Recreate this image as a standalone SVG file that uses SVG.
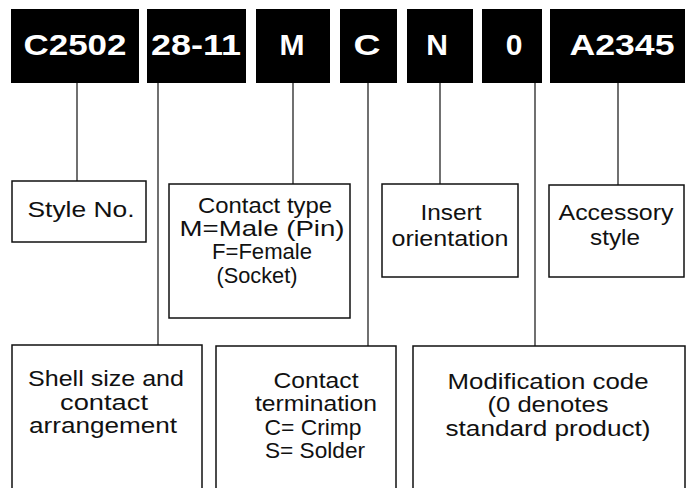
<svg xmlns="http://www.w3.org/2000/svg" width="691" height="488" viewBox="0 0 691 488">
<style>
.code{fill:#000}
.ct{fill:#fff;font-family:"Liberation Sans",Arial,sans-serif;font-weight:bold;font-size:30px;text-anchor:middle}
.box{fill:#fff;stroke:#111;stroke-width:1.5}
.lb{fill:#111;font-family:"Liberation Sans",Arial,sans-serif;font-size:22px;text-anchor:middle}
.cn{stroke:#111;stroke-width:1.2;fill:none}
</style>
<rect width="691" height="488" fill="#fff"/>
<g id="connectors">
<line class="cn" x1="77" y1="83" x2="77" y2="182"/>
<line class="cn" x1="158" y1="83" x2="158" y2="345"/>
<line class="cn" x1="293" y1="83" x2="293" y2="184"/>
<line class="cn" x1="368" y1="83" x2="368" y2="346"/>
<line class="cn" x1="440" y1="83" x2="440" y2="184"/>
<line class="cn" x1="535" y1="83" x2="535" y2="346"/>
<line class="cn" x1="618" y1="83" x2="618" y2="185"/>
</g>
<g id="code-C2502"><rect class="code" x="11" y="9" width="128" height="74"/><text class="ct" x="75" y="55" textLength="103" lengthAdjust="spacingAndGlyphs">C2502</text></g>
<g id="code-28-11"><rect class="code" x="147" y="9" width="99" height="74"/><text class="ct" x="196" y="55" textLength="90" lengthAdjust="spacingAndGlyphs">28-11</text></g>
<g id="code-M"><rect class="code" x="256" y="9" width="74" height="74"/><text class="ct" x="292" y="55">M</text></g>
<g id="code-C"><rect class="code" x="340" y="9" width="57" height="74"/><text class="ct" x="367" y="55" textLength="27" lengthAdjust="spacingAndGlyphs">C</text></g>
<g id="code-N"><rect class="code" x="407" y="9" width="66" height="74"/><text class="ct" x="437" y="55">N</text></g>
<g id="code-0"><rect class="code" x="482" y="9" width="60" height="74"/><text class="ct" x="514" y="55">0</text></g>
<g id="code-A2345"><rect class="code" x="550" y="9" width="135" height="74"/><text class="ct" x="622" y="55" textLength="105" lengthAdjust="spacingAndGlyphs">A2345</text></g>

<g id="style-no"><rect class="box" x="12" y="181" width="134" height="61"/><text class="lb" x="81" y="217" textLength="107" lengthAdjust="spacingAndGlyphs">Style No.</text></g>
<g id="contact-type"><rect class="box" x="169" y="184" width="181" height="134"/>
<text class="lb" x="265" y="213" textLength="134" lengthAdjust="spacingAndGlyphs">Contact type</text>
<text class="lb" x="262" y="236" textLength="165" lengthAdjust="spacingAndGlyphs">M=Male (Pin)</text>
<text class="lb" x="262" y="259" textLength="100" lengthAdjust="spacingAndGlyphs">F=Female</text>
<text class="lb" x="257" y="283" textLength="81" lengthAdjust="spacingAndGlyphs">(Socket)</text></g>
<g id="insert-orientation"><rect class="box" x="382" y="184" width="136" height="93"/>
<text class="lb" x="451" y="220" textLength="61" lengthAdjust="spacingAndGlyphs">Insert</text>
<text class="lb" x="450" y="246" textLength="117" lengthAdjust="spacingAndGlyphs">orientation</text></g>
<g id="accessory-style"><rect class="box" x="549" y="185" width="135" height="92"/>
<text class="lb" x="616" y="220" textLength="115" lengthAdjust="spacingAndGlyphs">Accessory</text>
<text class="lb" x="615" y="245" textLength="50" lengthAdjust="spacingAndGlyphs">style</text></g>

<g id="shell-size"><rect class="box" x="12" y="345" width="190" height="150"/>
<text class="lb" x="106" y="386" textLength="156" lengthAdjust="spacingAndGlyphs">Shell size and</text>
<text class="lb" x="104" y="410" textLength="88" lengthAdjust="spacingAndGlyphs">contact</text>
<text class="lb" x="103" y="433" textLength="148" lengthAdjust="spacingAndGlyphs">arrangement</text></g>
<g id="contact-termination"><rect class="box" x="216" y="346" width="180" height="150"/>
<text class="lb" x="316" y="388" textLength="85" lengthAdjust="spacingAndGlyphs">Contact</text>
<text class="lb" x="316" y="411" textLength="122" lengthAdjust="spacingAndGlyphs">termination</text>
<text class="lb" x="313" y="435" textLength="97" lengthAdjust="spacingAndGlyphs">C= Crimp</text>
<text class="lb" x="315" y="458" textLength="100" lengthAdjust="spacingAndGlyphs">S= Solder</text></g>
<g id="modification-code"><rect class="box" x="413" y="346" width="272" height="150"/>
<text class="lb" x="548" y="389" textLength="201" lengthAdjust="spacingAndGlyphs">Modification code</text>
<text class="lb" x="548" y="412" textLength="121" lengthAdjust="spacingAndGlyphs">(0 denotes</text>
<text class="lb" x="548" y="436" textLength="205" lengthAdjust="spacingAndGlyphs">standard product)</text></g>
</svg>
